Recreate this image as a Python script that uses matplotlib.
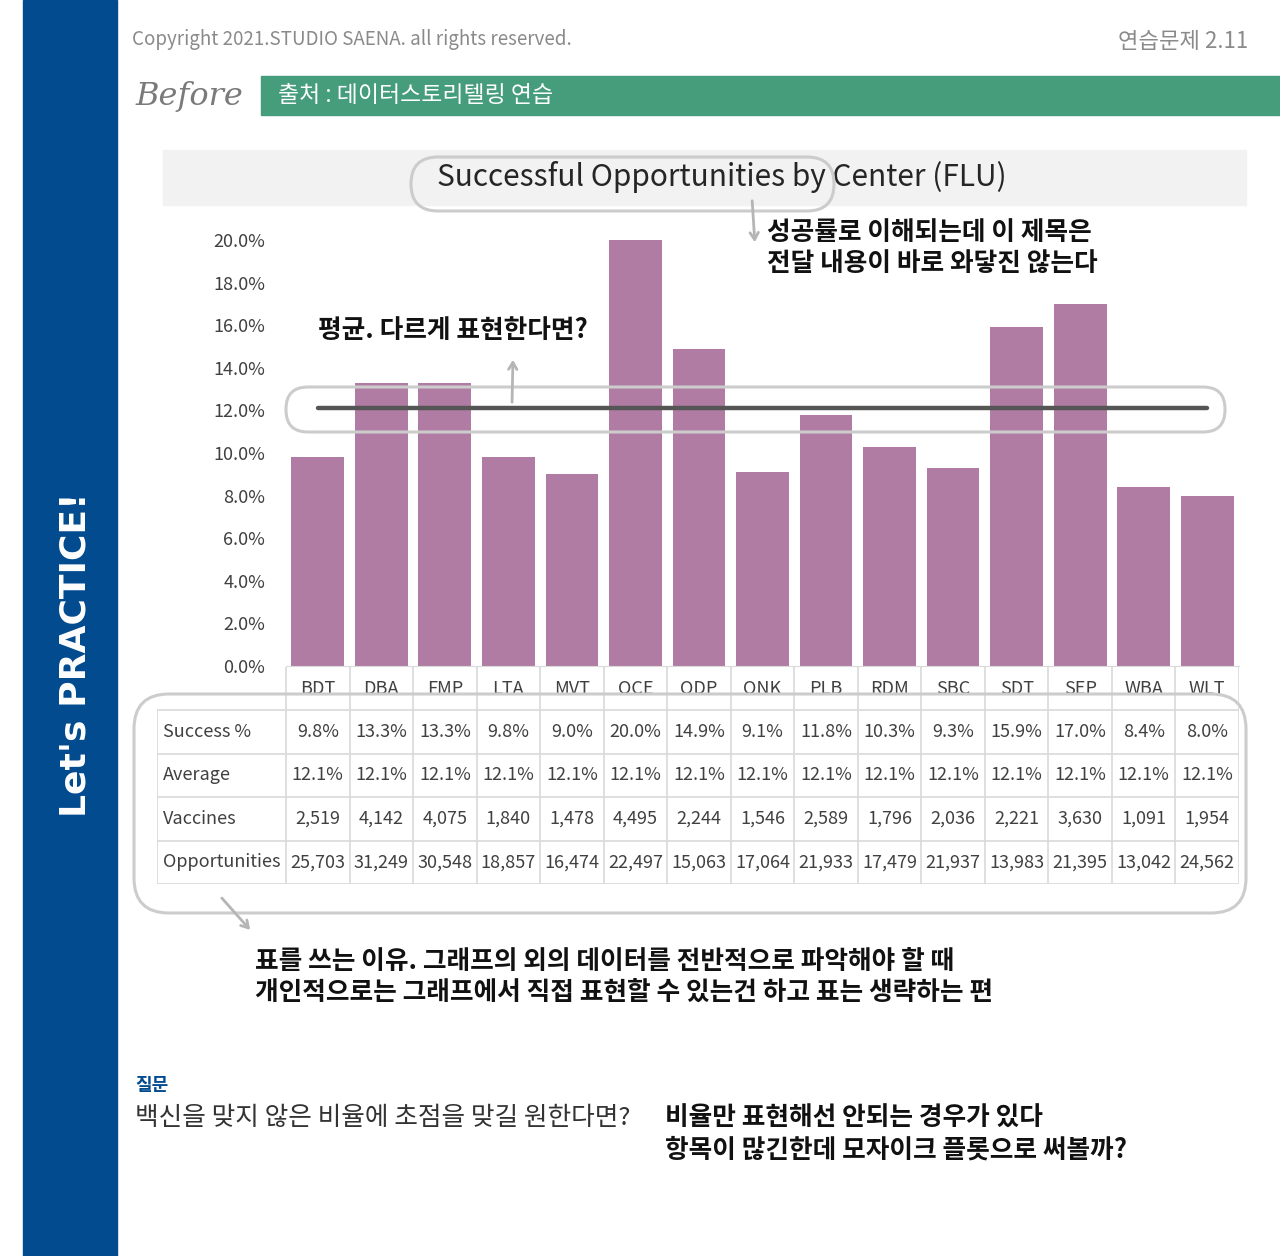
import matplotlib
matplotlib.use("Agg")
import matplotlib.pyplot as plt
from matplotlib.patches import Rectangle, FancyBboxPatch

plt.rcParams['font.family'] = ['Noto Sans CJK KR', 'DejaVu Sans']

centers = ['BDT', 'DBA', 'FMP', 'LTA', 'MVT', 'OCE', 'ODP', 'ONK',
           'PLB', 'RDM', 'SBC', 'SDT', 'SEP', 'WBA', 'WLT']
success = [9.8, 13.3, 13.3, 9.8, 9.0, 20.0, 14.9, 9.1,
           11.8, 10.3, 9.3, 15.9, 17.0, 8.4, 8.0]
average = [12.1] * 15
vaccines = [2519, 4142, 4075, 1840, 1478, 4495, 2244, 1546,
            2589, 1796, 2036, 2221, 3630, 1091, 1954]
opportunities = [25703, 31249, 30548, 18857, 16474, 22497, 15063, 17064,
                 21933, 17479, 21937, 13983, 21395, 13042, 24562]
row_names = ['Success %', 'Average', 'Vaccines', 'Opportunities']
yticks = [0, 2, 4, 6, 8, 10, 12, 14, 16, 18, 20]

W, H = 1280, 1256
BLUE = '#034b8f'
GREEN = '#459d7c'
BAR = '#b07ca4'
GRID = '#d9d9d9'
LOOP = '#cccccc'
TXT = '#404040'


def px_box(x0, y0, x1, y1):
    return [x0 / W, 1 - y1 / H, (x1 - x0) / W, (y1 - y0) / H]


fig = plt.figure(figsize=(W / 100, H / 100), dpi=100)

# background layer (pixel coordinates)
bg = fig.add_axes([0, 0, 1, 1], zorder=0)
bg.set_xlim(0, W)
bg.set_ylim(H, 0)
bg.axis('off')
bg.add_patch(Rectangle((23, 0), 94, H, color=BLUE))
bg.add_patch(Rectangle((261, 76), W - 261, 39, color=GREEN))
bg.add_patch(Rectangle((163, 150), 1083, 55, color='#f2f2f2'))

bg.text(132, 40, 'Copyright 2021.STUDIO SAENA. all rights reserved.',
        fontsize=13.5, color='#8a8a8a', va='center', ha='left', fontweight='light')
bg.text(1248, 42, '연습문제 2.11', fontsize=16, color='#8a8a8a',
        va='center', ha='right', fontweight='light')
bg.text(135, 97, 'Before', fontsize=23, color='#7a7a7a', va='center', ha='left',
        family='DejaVu Serif', style='italic')
bg.text(278, 96, '출처 : 데이터스토리텔링 연습', fontsize=16.5, color='white',
        va='center', ha='left', fontweight='light')
bg.text(76, 655, "Let's PRACTICE!", fontsize=26, color='white', rotation=90,
        va='center', ha='center', fontweight='bold', family='DejaVu Sans')
bg.text(722, 177, 'Successful Opportunities by Center (FLU)', fontsize=21.5,
        color='#262626', va='center', ha='center', fontweight='medium')

# bar chart
ax = fig.add_axes(px_box(286, 240, 1239, 666), zorder=2)
ax.patch.set_alpha(0)
x = list(range(len(centers)))
ax.bar(x, success, width=0.83, color=BAR)
ax.plot(x, average, color='#555555', linewidth=3.2, solid_capstyle='round')
ax.set_xlim(-0.5, 14.5)
ax.set_ylim(0, 20)
ax.set_yticks(yticks)
ax.set_yticklabels([f'{v:.1f}%' for v in yticks])
ax.tick_params(axis='y', length=0, pad=15, labelsize=13, labelcolor=TXT)
ax.set_xticks([])
for s in ['top', 'right', 'left']:
    ax.spines[s].set_visible(False)
ax.spines['bottom'].set_color(GRID)

# data table
hdr_w = 129 / 63.53
tb = fig.add_axes(px_box(157, 667, 1239, 884), zorder=2)
tb.patch.set_alpha(0)
tb.set_xlim(-0.5 - hdr_w, 14.5)
tb.set_ylim(5, 0)
tb.axis('off')
for k in range(16):
    tb.plot([k - 0.5, k - 0.5], [0, 5], color=GRID, lw=1.2)
tb.plot([-0.5 - hdr_w, -0.5 - hdr_w], [1, 5], color=GRID, lw=1.2)
for r in range(1, 6):
    tb.plot([-0.5 - hdr_w, 14.5], [r, r], color=GRID, lw=1.2)

rows = [[f'{v:.1f}%' for v in success],
        [f'{v:.1f}%' for v in average],
        [f'{v:,}' for v in vaccines],
        [f'{v:,}' for v in opportunities]]
for i, c in enumerate(centers):
    tb.text(i, 0.5, c, ha='center', va='center', fontsize=13, color=TXT,
            fontweight='light')
for r, (name, vals) in enumerate(zip(row_names, rows)):
    tb.text(-0.5 - hdr_w + 0.09, r + 1.5, name, ha='left', va='center',
            fontsize=13, color=TXT, fontweight='light')
    for i, v in enumerate(vals):
        tb.text(i, r + 1.5, v, ha='center', va='center', fontsize=13,
                color=TXT, fontweight='light')

# hand-drawn notes layer
fg = fig.add_axes([0, 0, 1, 1], zorder=5)
fg.patch.set_alpha(0)
fg.set_xlim(0, W)
fg.set_ylim(H, 0)
fg.axis('off')

loops = [(411, 157, 834, 211, 27), (286, 387, 1225, 432, 22),
         (134, 694, 1246, 913, 35)]
for x0, y0, x1, y1, rad in loops:
    fg.add_patch(FancyBboxPatch((x0, y0), x1 - x0, y1 - y0,
                                boxstyle=f'round,pad=0,rounding_size={rad}',
                                fill=False, ec=LOOP, lw=2.2))

arrow = dict(arrowstyle='->,head_length=0.5,head_width=0.3', color='#b5b5b5', lw=2)
fg.annotate('', xy=(755, 245), xytext=(752, 198), arrowprops=arrow)
fg.annotate('', xy=(513, 357), xytext=(512, 405), arrowprops=arrow)
fg.annotate('', xy=(252, 932), xytext=(220, 896), arrowprops=arrow)

hand = dict(fontsize=18.5, color='#111111', fontweight='bold', va='center', ha='left')
fg.text(767, 248, '성공률로 이해되는데 이 제목은\n전달 내용이 바로 와닿진 않는다',
        linespacing=1.2, **hand)
fg.text(318, 330, '평균. 다르게 표현한다면?', **hand)
fg.text(255, 977, '표를 쓰는 이유. 그래프의 외의 데이터를 전반적으로 파악해야 할 때\n'
        '개인적으로는 그래프에서 직접 표현할 수 있는건 하고 표는 생략하는 편',
        linespacing=1.15, **hand)
fg.text(665, 1134, '비율만 표현해선 안되는 경우가 있다\n항목이 많긴한데 모자이크 플롯으로 써볼까?',
        linespacing=1.2, **hand)
fg.text(135, 1086, '질문', fontsize=13, color=BLUE, fontweight='bold',
        va='center', ha='left')
fg.text(135, 1118, '백신을 맞지 않은 비율에 초점을 맞길 원한다면?', fontsize=18.5,
        color='#333333', va='center', ha='left', fontweight='light')

fig.savefig('out.png', dpi=100)
